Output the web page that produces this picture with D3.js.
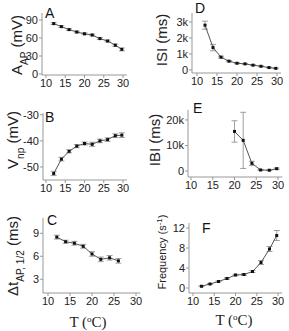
<!DOCTYPE html>
<html>
<head>
<meta charset="utf-8">
<script src="https://cdn.jsdelivr.net/npm/d3@7"></script>
<style>
  body { margin: 0; background: #fff; }
  text { font-family: "Liberation Sans", Arial, sans-serif; }
</style>
</head>
<body>
<div id="chart"></div>
<script>
// Temperaturen (x) fuer alle Panels
const tempsFull = [12, 14, 16, 18, 20, 22, 24, 26, 28, 29.7];
const tempsC = [12, 14, 16, 18, 20, 22, 24, 26];
const tempsE = [20, 22, 24, 26, 28, 29.7];

// Werte pro Panel
const ampValues = [84, 79, 74, 70, 67, 65, 59, 55, 48, 41];
const ampErr = [1.5, 1.5, 1.5, 1.5, 1.5, 1.5, 1.5, 1.5, 2, 2.5];

const vnpValues = [-52.5, -47, -44, -42, -41, -41.3, -40, -39.5, -38, -37.8];
const vnpErr = [0.8, 0.7, 0.6, 0.6, 0.6, 0.8, 0.7, 0.7, 0.7, 0.9];

const halfWidthValues = [8.5, 7.9, 7.7, 7.3, 6.3, 5.6, 5.8, 5.4];
const halfWidthErr = [0.25, 0.2, 0.25, 0.25, 0.3, 0.3, 0.3, 0.3];

const isiValues = [2800, 1400, 800, 550, 420, 380, 300, 230, 150, 100];
const isiErr = [250, 200, 60, 40, 30, 30, 30, 25, 20, 20];

const ibiValues = [15500, 12000, 3000, 400, 300, 900];
const ibiErr = [4200, 11000, 800, 200, 150, 300];

const freqValues = [0.35, 0.8, 1.3, 1.9, 2.6, 2.7, 3.3, 5.1, 7.8, 10.5];
const freqErr = [0.1, 0.1, 0.1, 0.15, 0.15, 0.2, 0.2, 0.4, 0.5, 1.0];

const xTicks = [10, 15, 20, 25, 30];

const svg = d3.select("#chart").append("svg")
    .attr("width", 289)
    .attr("height", 331);

// Panel-Layout (Pixel)
const panels = [
    { letter: "A", xs: tempsFull, ys: ampValues, err: ampErr,
      x0: 46, x1: 123, yDom: [-1.7, 101.7], yRange: [75, 13], axisX: 42,
      yTicks: [0, 30, 60, 90], fmt: d => d,
      letterPos: [45, 18], title: ["A", "AP", " (mV)"], titlePos: [22, 45] },
    { letter: "B", xs: tempsFull, ys: vnpValues, err: vnpErr,
      x0: 46, x1: 123, yDom: [-55, -29.3], yRange: [180, 113], axisX: 43,
      yTicks: [-50, -40, -30], fmt: d => d,
      letterPos: [45, 122], title: ["V", "np", " (mV)"], titlePos: [18, 140] },
    { letter: "C", xs: tempsC, ys: halfWidthValues, err: halfWidthErr,
      x0: 48, x1: 136, yDom: [1.2, 11], yRange: [293, 218], axisX: 43,
      yTicks: [3, 6, 9], fmt: d => d,
      letterPos: [47, 225], title: ["\u0394t", "AP, 1/2", " (ms)"], titlePos: [18, 256] },
    { letter: "D", xs: tempsFull, ys: isiValues, err: isiErr,
      x0: 197, x1: 277, yDom: [-190, 3560], yRange: [73, 13], axisX: 192,
      yTicks: [0, 1000, 2000, 3000], fmt: d => d === 0 ? "0" : (d / 1000) + "k",
      letterPos: [195, 13], title: ["ISI (ms)", "", ""], titlePos: [167, 40] },
    { letter: "E", xs: tempsE, ys: ibiValues, err: ibiErr,
      x0: 191, x1: 278, yDom: [-2350, 23900], yRange: [177, 110], axisX: 188,
      yTicks: [0, 10000, 20000], fmt: d => d === 0 ? "0" : (d / 1000) + "k",
      letterPos: [193, 113], title: ["IBI (ms)", "", ""], titlePos: [160, 140] },
    { letter: "F", xs: tempsFull, ys: freqValues, err: freqErr,
      x0: 193, x1: 278, yDom: [-1, 13], yRange: [293, 223], axisX: 189,
      yTicks: [0, 4, 8, 12], fmt: d => d,
      letterPos: [202, 233], title: ["Frequency (s", "-1", ")"], titlePos: [166, 252], sup: true }
];

panels.forEach(p => {
    const x = d3.scaleLinear().domain([10, 30]).range([p.x0, p.x1]);
    const y = d3.scaleLinear().domain(p.yDom).range(p.yRange);
    const xEnd = x(31);

    const g = svg.append("g");

    // Achsenlinien
    g.append("line")
        .attr("x1", p.axisX).attr("x2", xEnd)
        .attr("y1", p.yRange[0]).attr("y2", p.yRange[0])
        .attr("stroke", "#999").attr("stroke-width", 1);
    g.append("line")
        .attr("x1", p.axisX).attr("x2", p.axisX)
        .attr("y1", p.yRange[0]).attr("y2", p.yRange[1])
        .attr("stroke", "#999").attr("stroke-width", 1);

    // x Ticks
    g.selectAll(".xt").data(xTicks).enter().append("line")
        .attr("x1", d => x(d)).attr("x2", d => x(d))
        .attr("y1", p.yRange[0]).attr("y2", p.yRange[0] + 3)
        .attr("stroke", "#999");
    g.selectAll(".xl").data(xTicks).enter().append("text")
        .attr("x", d => x(d)).attr("y", p.yRange[0] + 12)
        .attr("text-anchor", "middle")
        .style("font-size", "11px").attr("fill", "#222")
        .text(d => d);

    // y Ticks
    g.selectAll(".yt").data(p.yTicks).enter().append("line")
        .attr("x1", p.axisX - 3).attr("x2", p.axisX)
        .attr("y1", d => y(d)).attr("y2", d => y(d))
        .attr("stroke", "#999");
    g.selectAll(".yl").data(p.yTicks).enter().append("text")
        .attr("x", p.axisX - 4).attr("y", d => y(d) + 4)
        .attr("text-anchor", "end")
        .style("font-size", "11px").attr("fill", "#222")
        .text(p.fmt);

    const pts = p.xs.map((t, i) => ({ t, v: p.ys[i], e: p.err[i] }));

    // Fehlerbalken
    g.selectAll(".eb").data(pts).enter().append("path")
        .attr("d", d => {
            const cx = x(d.t), hi = y(d.v + d.e), lo = y(d.v - d.e);
            return `M${cx},${hi}V${lo}M${cx - 3},${hi}H${cx + 3}M${cx - 3},${lo}H${cx + 3}`;
        })
        .attr("stroke", "#888").attr("fill", "none").attr("stroke-width", 0.8);

    // Linie
    g.append("path").datum(pts)
        .attr("d", d3.line().x(d => x(d.t)).y(d => y(d.v)))
        .attr("fill", "none").attr("stroke", "#555").attr("stroke-width", 1);

    // Punkte
    g.selectAll(".pt").data(pts).enter().append("rect")
        .attr("x", d => x(d.t) - 1.5).attr("y", d => y(d.v) - 1.5)
        .attr("width", 3).attr("height", 3)
        .attr("fill", "#111");

    // Panelbuchstabe
    g.append("text")
        .attr("x", p.letterPos[0]).attr("y", p.letterPos[1])
        .style("font-size", "14px").attr("fill", "#111")
        .text(p.letter);

    // y-Achsentitel, rotiert
    const t = g.append("text")
        .attr("transform", `translate(${p.titlePos[0]},${p.titlePos[1]}) rotate(-90)`)
        .attr("text-anchor", "middle")
        .style("font-size", p.sup ? "11px" : "15px").attr("fill", "#222");
    t.append("tspan").text(p.title[0]);
    if (p.title[1]) {
        t.append("tspan")
            .attr("baseline-shift", p.sup ? "super" : "sub")
            .style("font-size", p.sup ? "8px" : "10px")
            .text(p.title[1]);
        t.append("tspan").text(p.title[2]);
    }
});

// x-Achsentitel T (°C) unter C und F
[[88, 327], [234, 325]].forEach(pos => {
    const t = svg.append("text")
        .attr("x", pos[0]).attr("y", pos[1])
        .attr("text-anchor", "middle")
        .style("font-family", "'Liberation Serif', 'Times New Roman', serif")
        .style("font-size", "15px").attr("fill", "#222");
    t.append("tspan").text("T (");
    t.append("tspan").attr("baseline-shift", "super").style("font-size", "9px").text("o");
    t.append("tspan").text("C)");
});
</script>
</body>
</html>
